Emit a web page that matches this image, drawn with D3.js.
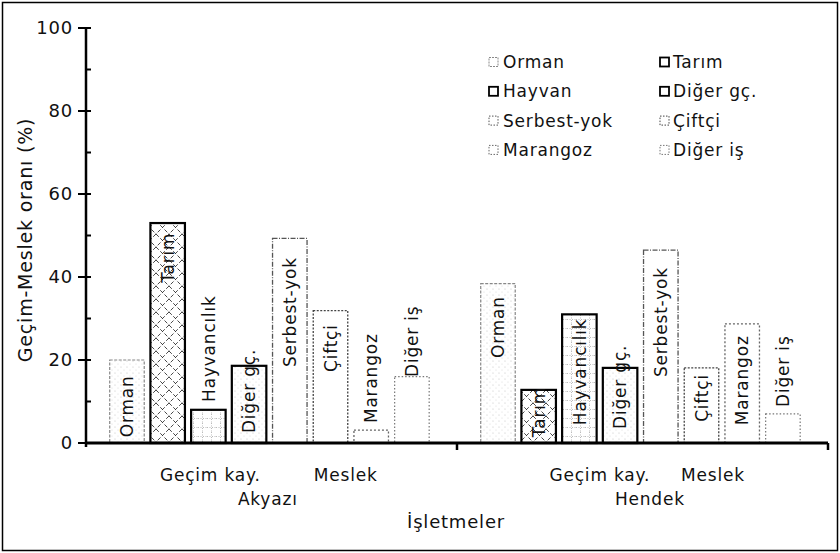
<!DOCTYPE html>
<html><head><meta charset="utf-8">
<script src="https://cdn.jsdelivr.net/npm/d3@7"></script>
<style>
html,body{margin:0;padding:0;background:#fff;}
text{font-family:"DejaVu Sans",sans-serif;font-size:17px;fill:#111;letter-spacing:0.8px;}
</style></head>
<body><svg id="c" width="840" height="553"></svg>
<script>
const groups = ["Akyazı", "Hendek"];
const subCategories = ["Geçim kay.", "Meslek"];
const legendNames = ["Orman", "Tarım", "Hayvan", "Diğer gç.", "Serbest-yok", "Çiftçi", "Marangoz", "Diğer iş"];
const barNames = ["Orman", "Tarım", "Hayvancılık", "Diğer gç.", "Serbest-yok", "Çiftçi", "Marangoz", "Diğer iş"];
const akyaziValues = [20, 53, 8, 18.6, 49.3, 31.9, 3.1, 16];
const hendekValues = [38.4, 12.8, 31, 18.1, 46.5, 18.1, 28.7, 7];
// where each bar's rotated name starts (in % units)
const akyaziLabelAt = [1.4, 38.6, 9.9, 2.4, 18.3, 17.1, 4.8, 15.9];
const hendekLabelAt = [20.5, 1.4, 4.3, 3.4, 15.9, 5.1, 4.3, 8.7];
const yTicks = [0, 20, 40, 60, 80, 100];
const yMinorTicks = [10, 30, 50, 70, 90];
const xTitle = "İşletmeler";
const yTitle = "Geçim-Meslek oranı (%)";

const svg = d3.select("#c");
const defs = svg.append("defs");

// patterns
const pSpeck = defs.append("pattern").attr("id","speck").attr("patternUnits","userSpaceOnUse").attr("width",6).attr("height",6);
pSpeck.append("rect").attr("width",6).attr("height",6).attr("fill","#fff");
pSpeck.append("circle").attr("cx",1).attr("cy",1).attr("r",0.6).attr("fill","#c4c4c4");
pSpeck.append("circle").attr("cx",4).attr("cy",4).attr("r",0.5).attr("fill","#d4d4d4");

const pCross = defs.append("pattern").attr("id","cross").attr("patternUnits","userSpaceOnUse").attr("width",13).attr("height",13);
pCross.append("rect").attr("width",13).attr("height",13).attr("fill","#fff");
pCross.append("path").attr("d","M0,0L13,13M13,0L0,13").attr("stroke","#333").attr("stroke-width",0.9).attr("stroke-dasharray","4,2");

const pGrid = defs.append("pattern").attr("id","grid").attr("patternUnits","userSpaceOnUse").attr("width",9).attr("height",9);
pGrid.append("rect").attr("width",9).attr("height",9).attr("fill","#fff");
pGrid.append("path").attr("d","M4.5,0V9M0,4.5H9").attr("stroke","#aaa").attr("stroke-width",0.8).attr("stroke-dasharray","1,1.5");

const styles = [
  {fill:"url(#speck)", stroke:"#888", sw:1.2, dash:"3,1.5"},
  {fill:"url(#cross)", stroke:"#000", sw:2.2, dash:null},
  {fill:"url(#grid)", stroke:"#000", sw:2.2, dash:null},
  {fill:"url(#speck)", stroke:"#000", sw:2.2, dash:null},
  {fill:"#fff", stroke:"#555", sw:1.3, dash:"5,1.5,1,1.5"},
  {fill:"#fff", stroke:"#444", sw:1.3, dash:"2,1.5"},
  {fill:"#fff", stroke:"#666", sw:1.3, dash:"2,2"},
  {fill:"#fff", stroke:"#777", sw:1.2, dash:"1.5,2"}
];

// frame
svg.append("rect").attr("x",2.5).attr("y",2.5).attr("width",835).attr("height",548)
  .attr("fill","none").attr("stroke","#000").attr("stroke-width",1.5);

const y = d3.scaleLinear().domain([0,100]).range([443,28]);
const xGroup = d3.scaleBand().domain(groups).range([86,828]).padding(0);
const xBar = d3.scaleBand().domain(d3.range(8)).range([0, xGroup.bandwidth()])
  .paddingInner(0.152).paddingOuter(0.633).align(0.46);

const data = [];
groups.forEach((g, gi) => {
  const vals = gi === 0 ? akyaziValues : hendekValues;
  const la = gi === 0 ? akyaziLabelAt : hendekLabelAt;
  vals.forEach((v, i) => data.push({g, i, v, name: barNames[i], la: la[i]}));
});

const bars = svg.append("g");
bars.selectAll("rect").data(data).join("rect")
  .attr("x", d => xGroup(d.g) + xBar(d.i))
  .attr("y", d => y(d.v))
  .attr("width", xBar.bandwidth())
  .attr("height", d => y(0) - y(d.v))
  .attr("fill", d => styles[d.i].fill)
  .attr("stroke", d => styles[d.i].stroke)
  .attr("stroke-width", d => styles[d.i].sw)
  .attr("stroke-dasharray", d => styles[d.i].dash);

bars.selectAll("text").data(data).join("text")
  .attr("transform", d => `translate(${xGroup(d.g) + xBar(d.i) + xBar.bandwidth()/2},${y(d.la)}) rotate(-90)`)
  .attr("dy","0.36em")
  .attr("text-anchor","start")
  .text(d => d.name);

// y axis
const yAxis = svg.append("g").attr("transform","translate(86,0)");
yAxis.append("line").attr("x1",0).attr("x2",0).attr("y1",y(100)).attr("y2",y(0)+4).attr("stroke","#000").attr("stroke-width",2.5);
yAxis.selectAll(".maj").data(yTicks).join("line").attr("class","maj")
  .attr("x1",-8).attr("x2",5).attr("y1",d=>y(d)).attr("y2",d=>y(d)).attr("stroke","#000").attr("stroke-width",2);
yAxis.selectAll(".min").data(yMinorTicks).join("line").attr("class","min")
  .attr("x1",0).attr("x2",5).attr("y1",d=>y(d)).attr("y2",d=>y(d)).attr("stroke","#000").attr("stroke-width",2);
yAxis.selectAll(".tl").data(yTicks).join("text").attr("class","tl")
  .attr("x",-13).attr("y",d=>y(d)).attr("dy","0.36em").attr("text-anchor","end")
  .style("font-size","18px").text(d=>d);

// x axis
const xAxis = svg.append("g");
xAxis.append("line").attr("x1",85).attr("x2",xGroup.range()[1]).attr("y1",y(0)).attr("y2",y(0)).attr("stroke","#000").attr("stroke-width",3);
xAxis.selectAll(".xt").data(groups.slice(1).map(g=>xGroup(g)).concat([xGroup.range()[1]])).join("line").attr("class","xt")
  .attr("x1",d=>d).attr("x2",d=>d).attr("y1",y(0)).attr("y2",y(0)+7).attr("stroke","#000").attr("stroke-width",2.5);

// category labels
const subOffsets = [[0.335, 0.70],[0.385, 0.69]];
groups.forEach((g, gi) => {
  subCategories.forEach((s, si) => {
    xAxis.append("text").attr("x", xGroup(g) + xGroup.bandwidth()*subOffsets[gi][si]).attr("y", 481)
      .attr("text-anchor","middle").text(s);
  });
  xAxis.append("text").attr("x", xGroup(g) + xGroup.bandwidth()*[0.49,0.52][gi]).attr("y", 505)
    .attr("text-anchor","middle").text(g);
});
svg.append("text").attr("x", 456).attr("y", 528).attr("text-anchor","middle").style("font-size","18px").text(xTitle);
svg.append("text").attr("transform","translate(25,240) rotate(-90)").attr("dy","0.36em")
  .attr("text-anchor","middle").style("font-size","19px").text(yTitle);

// legend
const legend = svg.append("g");
const lg = legend.selectAll("g").data(legendNames).join("g")
  .attr("transform",(d,i)=>`translate(${i%2===0?489:660},${62 + Math.floor(i/2)*29.3})`);
lg.append("rect").attr("x",0).attr("y",-4.5).attr("width",9).attr("height",9)
  .attr("fill","#fff")
  .attr("stroke",(d,i)=>styles[i].stroke)
  .attr("stroke-width",(d,i)=>i>=1&&i<=3?1.8:1)
  .attr("stroke-dasharray",(d,i)=>i===0?"2,1":(i>=4?"1.5,1.5":null));
lg.append("text").attr("x",(d,i)=>i%2===0?14:13).attr("y",0).attr("dy","0.36em").text(d=>d);
</script></body></html>
